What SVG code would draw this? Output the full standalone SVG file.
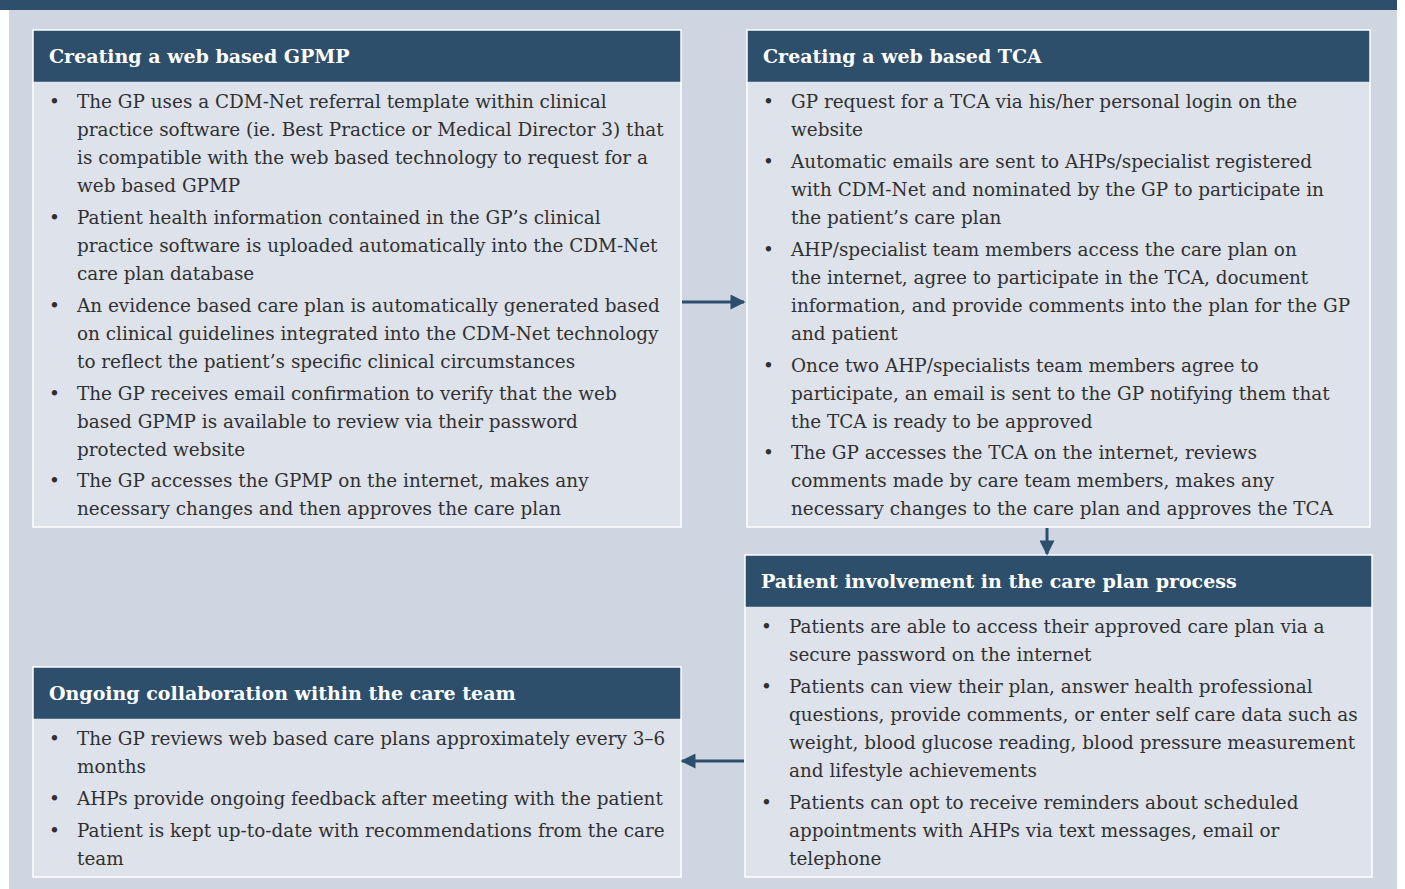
<svg xmlns="http://www.w3.org/2000/svg" width="1405" height="889" viewBox="0 0 1405 889">
  <style>
    .panel { fill: #cfd6e2; }
    .band { fill: #2d4f6c; }
    .box { fill: #dde2eb; stroke: #ffffff; stroke-width: 1.5; }
    .head { fill: #2d4f6c; }
    .title { font-family: "DejaVu Serif", "Liberation Serif", serif; font-weight: bold; font-size: 19px; fill: #ffffff; }
    .body { font-family: "DejaVu Serif", "Liberation Serif", serif; font-size: 18.4px; fill: #303030; }
    .conn { stroke: #2d4f6c; stroke-width: 3; fill: none; }
  </style>
  <defs>
    <marker id="arrow" viewBox="0 0 10 10" refX="9" refY="5" markerWidth="6" markerHeight="5" markerUnits="strokeWidth" orient="auto">
      <path d="M0,0 L10,5 L0,10 z" fill="#2d4f6c"/>
    </marker>
  </defs>

  <rect width="1405" height="889" fill="#ffffff"/>
  <rect class="panel" x="9" y="0" width="1388" height="889"/>
  <rect class="band" x="0" y="0" width="1397" height="10"/>

  <!-- Creating a web based GPMP -->
  <g id="gpmp">
    <rect class="box" x="33" y="30" width="648" height="497"/>
    <rect class="head" x="33.75" y="30.75" width="646.5" height="51"/>
    <text class="title" x="49" y="63">Creating a web based GPMP</text>
    <g class="body">
      <text x="49" y="108">•</text><text x="77" y="108">The GP uses a CDM-Net referral template within clinical</text>
      <text x="77" y="136">practice software (ie. Best Practice or Medical Director 3) that</text>
      <text x="77" y="164">is compatible with the web based technology to request for a</text>
      <text x="77" y="192">web based GPMP</text>
      <text x="49" y="224">•</text><text x="77" y="224">Patient health information contained in the GP’s clinical</text>
      <text x="77" y="252">practice software is uploaded automatically into the CDM-Net</text>
      <text x="77" y="280">care plan database</text>
      <text x="49" y="312">•</text><text x="77" y="312">An evidence based care plan is automatically generated based</text>
      <text x="77" y="340">on clinical guidelines integrated into the CDM-Net technology</text>
      <text x="77" y="368">to reflect the patient’s specific clinical circumstances</text>
      <text x="49" y="400">•</text><text x="77" y="400">The GP receives email confirmation to verify that the web</text>
      <text x="77" y="428">based GPMP is available to review via their password</text>
      <text x="77" y="456">protected website</text>
      <text x="49" y="487">•</text><text x="77" y="487">The GP accesses the GPMP on the internet, makes any</text>
      <text x="77" y="515">necessary changes and then approves the care plan</text>
    </g>
  </g>

  <!-- Creating a web based TCA -->
  <g id="tca">
    <rect class="box" x="747" y="30" width="623" height="497"/>
    <rect class="head" x="747.75" y="30.75" width="621.5" height="51"/>
    <text class="title" x="763" y="63">Creating a web based TCA</text>
    <g class="body">
      <text x="763" y="108">•</text><text x="791" y="108">GP request for a TCA via his/her personal login on the</text>
      <text x="791" y="136">website</text>
      <text x="763" y="168">•</text><text x="791" y="168">Automatic emails are sent to AHPs/specialist registered</text>
      <text x="791" y="196">with CDM-Net and nominated by the GP to participate in</text>
      <text x="791" y="224">the patient’s care plan</text>
      <text x="763" y="256">•</text><text x="791" y="256">AHP/specialist team members access the care plan on</text>
      <text x="791" y="284">the internet, agree to participate in the TCA, document</text>
      <text x="791" y="312">information, and provide comments into the plan for the GP</text>
      <text x="791" y="340">and patient</text>
      <text x="763" y="372">•</text><text x="791" y="372">Once two AHP/specialists team members agree to</text>
      <text x="791" y="400">participate, an email is sent to the GP notifying them that</text>
      <text x="791" y="428">the TCA is ready to be approved</text>
      <text x="763" y="459">•</text><text x="791" y="459">The GP accesses the TCA on the internet, reviews</text>
      <text x="791" y="487">comments made by care team members, makes any</text>
      <text x="791" y="515">necessary changes to the care plan and approves the TCA</text>
    </g>
  </g>

  <!-- Patient involvement in the care plan process -->
  <g id="patient">
    <rect class="box" x="745" y="555" width="627" height="322"/>
    <rect class="head" x="745.75" y="555.75" width="625.5" height="51"/>
    <text class="title" x="761" y="588">Patient involvement in the care plan process</text>
    <g class="body">
      <text x="761" y="633">•</text><text x="789" y="633">Patients are able to access their approved care plan via a</text>
      <text x="789" y="661">secure password on the internet</text>
      <text x="761" y="693">•</text><text x="789" y="693">Patients can view their plan, answer health professional</text>
      <text x="789" y="721">questions, provide comments, or enter self care data such as</text>
      <text x="789" y="749">weight, blood glucose reading, blood pressure measurement</text>
      <text x="789" y="777">and lifestyle achievements</text>
      <text x="761" y="809">•</text><text x="789" y="809">Patients can opt to receive reminders about scheduled</text>
      <text x="789" y="837">appointments with AHPs via text messages, email or</text>
      <text x="789" y="865">telephone</text>
    </g>
  </g>

  <!-- Ongoing collaboration within the care team -->
  <g id="ongoing">
    <rect class="box" x="33" y="667" width="648" height="210"/>
    <rect class="head" x="33.75" y="667.75" width="646.5" height="51"/>
    <text class="title" x="49" y="700">Ongoing collaboration within the care team</text>
    <g class="body">
      <text x="49" y="745">•</text><text x="77" y="745">The GP reviews web based care plans approximately every 3–6</text>
      <text x="77" y="773">months</text>
      <text x="49" y="805">•</text><text x="77" y="805">AHPs provide ongoing feedback after meeting with the patient</text>
      <text x="49" y="837">•</text><text x="77" y="837">Patient is kept up-to-date with recommendations from the care</text>
      <text x="77" y="865">team</text>
    </g>
  </g>

  <!-- connectors -->
  <g id="connectors">
    <line class="conn" x1="682" y1="302" x2="744" y2="302" marker-end="url(#arrow)"/>
    <line class="conn" x1="1047" y1="528" x2="1047" y2="554" marker-end="url(#arrow)"/>
    <line class="conn" x1="744" y1="761" x2="682" y2="761" marker-end="url(#arrow)"/>
  </g>
</svg>
